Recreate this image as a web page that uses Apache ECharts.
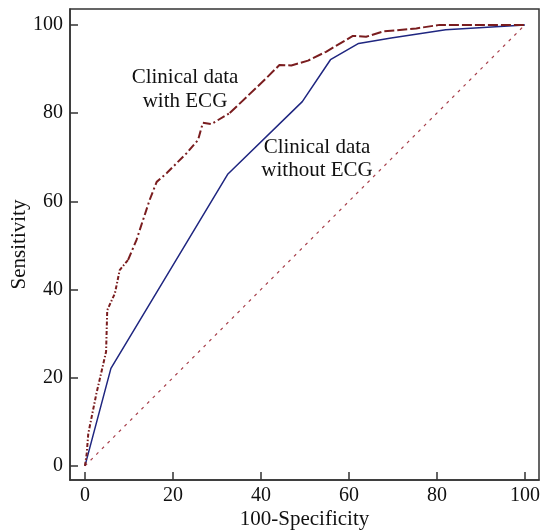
<!DOCTYPE html>
<html>
<head>
<meta charset="utf-8">
<script src="https://cdn.jsdelivr.net/npm/echarts@6/dist/echarts.min.js"></script>
<style>
html,body{margin:0;padding:0;background:#fff;}
#chart{width:542px;height:530px;}
</style>
</head>
<body>
<div id="chart"></div>
<script>
// Tick values
const tickValues = [0, 20, 40, 60, 80, 100];

// ROC: clinical data without ECG
const withoutECG = [
  [0, 0], [5.9, 22.1], [32.5, 66.2], [49.4, 82.6], [55.8, 92.1],
  [62.2, 95.8], [69.6, 97.0], [82, 98.9], [100, 100]
];

// ROC: clinical data with ECG (split into three segments by line style)
const withECGLow = [
  [0, 0], [0.4, 2.8], [0.75, 7.3], [2.6, 16.4], [3.4, 19.8], [4.8, 25.9],
  [5.06, 35.3], [6.8, 39.1], [7.9, 44.4], [9.8, 46.7]
];
const withECGMid = [
  [9.8, 46.7], [11.7, 51.2], [14.7, 60.3], [16.3, 64.4], [18.6, 66.4],
  [23.1, 70.9], [25.7, 73.9], [26.8, 77.8], [28.7, 77.5], [32.9, 80.0]
];
const withECGHigh = [
  [32.9, 80.0], [41.2, 87.9], [44.2, 90.9], [46.9, 90.8], [50.7, 91.9],
  [54.8, 93.9], [60.9, 97.5], [63.9, 97.3], [67.7, 98.5], [75.3, 99.2],
  [80.6, 100], [100, 100]
];

// Reference diagonal
const diagonal = [[0, 0], [100, 100]];

// Annotation texts
const labelWith = ['Clinical data', 'with ECG'];
const labelWithout = ['Clinical data', 'without ECG'];

const FONT = '"Liberation Serif", "DejaVu Serif", serif';
const AXIS_COLOR = '#333';
const RED = '#7a1d1f';
const BLUE = '#1f2680';

const chart = echarts.init(document.getElementById('chart'), null, {renderer: 'canvas'});

function axisCommon(name, nameGap) {
  return {
    type: 'value',
    min: -3.4,
    max: 103.2,
    name: name,
    nameLocation: 'middle',
    nameGap: nameGap,
    nameMoveOverlap: false,
    nameTextStyle: {fontFamily: FONT, fontSize: 21, color: '#111'},
    axisLine: {show: true, onZero: false, lineStyle: {color: AXIS_COLOR, width: 1.5}},
    axisTick: {show: true, inside: true, length: 8, customValues: tickValues, lineStyle: {color: AXIS_COLOR, width: 1.5}},
    axisLabel: {customValues: tickValues, fontFamily: FONT, fontSize: 20, color: '#111'},
    splitLine: {show: false}
  };
}

const xAx = axisCommon('100-Specificity', 29);
xAx.axisLabel.margin = 6;
const yAx = axisCommon('Sensitivity', 40);
yAx.min = -3.2;
yAx.max = 103.6;
yAx.axisLabel.margin = 7;

chart.setOption({
  animation: false,
  backgroundColor: '#fff',
  grid: {
    left: 70, right: 3, top: 9, bottom: 50,
    containLabel: false, outerBoundsMode: 'none',
    show: true, borderColor: AXIS_COLOR, borderWidth: 1.5, backgroundColor: 'transparent'
  },
  xAxis: xAx,
  yAxis: yAx,
  series: [
    {
      type: 'line', data: diagonal, symbol: 'none', silent: true,
      lineStyle: {color: '#a8404c', width: 1.2, type: [3, 5]}
    },
    {
      type: 'line', data: withoutECG, symbol: 'none',
      lineStyle: {color: BLUE, width: 1.5}
    },
    {
      type: 'line', data: withECGLow, symbol: 'none',
      lineStyle: {color: RED, width: 2, type: [4, 2, 1.5, 2]}
    },
    {
      type: 'line', data: withECGMid, symbol: 'none',
      lineStyle: {color: RED, width: 2, type: [8, 3, 2, 3]}
    },
    {
      type: 'line', data: withECGHigh, symbol: 'none',
      lineStyle: {color: RED, width: 2, type: [10, 3]}
    }
  ],
  graphic: [
    {
      type: 'text', x: 185, y: 65,
      style: {text: labelWith.join('\n'), fontFamily: FONT, fontSize: 21, lineHeight: 24, fill: '#111', align: 'center', verticalAlign: 'top'}
    },
    {
      type: 'text', x: 317, y: 136,
      style: {text: labelWithout.join('\n'), fontFamily: FONT, fontSize: 21, lineHeight: 23, fill: '#111', align: 'center', verticalAlign: 'top'}
    }
  ]
});
</script>
</body>
</html>
